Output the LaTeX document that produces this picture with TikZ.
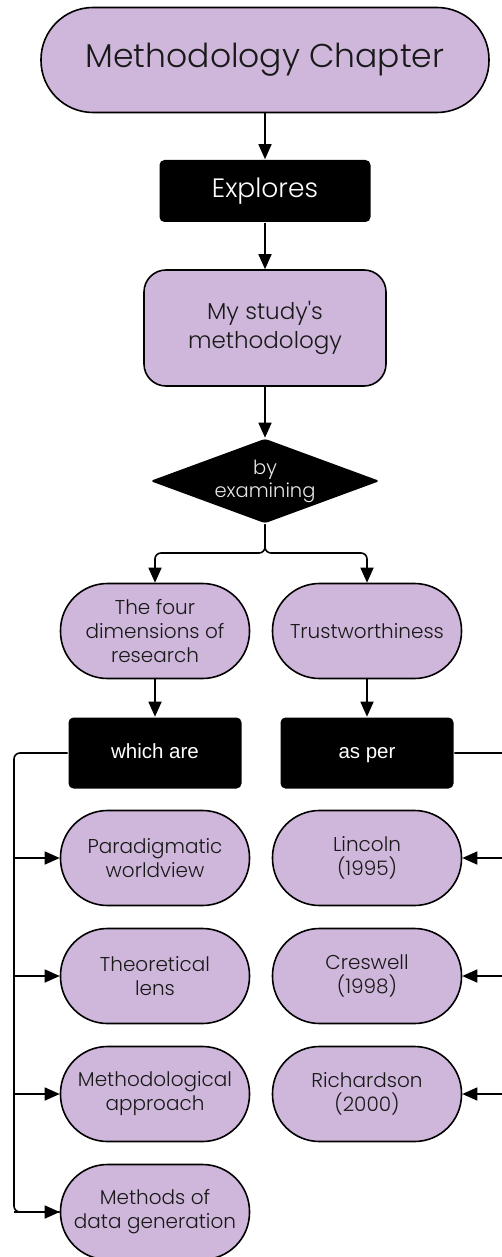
\documentclass[tikz,border=0pt]{standalone}
\usepackage{fontspec}
\newfontfamily\boxfont{Poppins}[UprightFont=* Light]
\newfontfamily\labelfont{Liberation Sans}
\usetikzlibrary{arrows.meta,shapes.geometric}
\definecolor{lav}{RGB}{207,183,219}
\definecolor{paletext}{RGB}{232,232,232}
\begin{document}
\begin{tikzpicture}[x=1pt,y=-1pt,
  line width=1.6pt,
  box/.style={draw=black,fill=lav,line width=1.6pt,inner sep=0pt,align=center,
    text=black!90},
  pill/.style={box,rounded corners=47pt,minimum width=189pt,minimum height=95pt,
    font=\boxfont\fontsize{20}{24}\selectfont},
  darkbox/.style={fill=black,rounded corners=5pt,inner sep=0pt,align=center,text=white},
  tag/.style={darkbox,minimum width=173pt,minimum height=71pt,text height=15pt,
    text depth=4pt,font=\labelfont\fontsize{20.5}{24}\selectfont},
  link/.style={-{Triangle[length=15pt,width=13pt]},line width=1.6pt},
  bus/.style={line width=1.6pt,rounded corners=6pt}
]
\useasboundingbox (0,0) rectangle (502,1257);
\clip (0,0) rectangle (502,1257);

% top of the chain
\node[box,rounded corners=52pt,minimum width=448pt,minimum height=105pt,
  font=\boxfont\fontsize{33}{38}\selectfont] (chap) at (265,60) {Methodology Chapter};
\node[darkbox,minimum width=211pt,minimum height=62pt,
  font=\boxfont\fontsize{26.5}{30}\selectfont] (expl) at (265,191) {Explores};
\node[box,rounded corners=22pt,minimum width=242pt,minimum height=116pt,
  font=\boxfont\fontsize{23}{29}\selectfont] (study) at (265,328) {My study's\\methodology};
\node[diamond,aspect=2.7,fill=black,rounded corners=3pt,minimum width=230pt,
  minimum height=85pt,inner sep=0pt,align=center,text=paletext,
  font=\boxfont\fontsize{19.5}{23}\selectfont]
  (exam) at (265,481) {by\\examining};

% two branches
\node[pill] (four) at (155,631) {The four\\dimensions of\\research};
\node[pill] (trust) at (367,631) {Trustworthiness};
\node[tag] (which) at (155,753) {which are};
\node[tag] (asper) at (367,753) {as per};

% left column
\node[pill] (para) at (155,858) {Paradigmatic\\worldview};
\node[pill] (theo) at (155,976) {Theoretical\\lens};
\node[pill] (appr) at (155,1094) {Methodological\\approach};
\node[pill] (gen) at (155,1212) {Methods of\\data generation};

% right column
\node[pill] (linc) at (367,858) {Lincoln\\(1995)};
\node[pill] (cres) at (367,976) {Creswell\\(1998)};
\node[pill] (rich) at (367,1094) {Richardson\\(2000)};

% connectors
\draw[link] (chap) -- (expl);
\draw[link] (expl) -- (study);
\draw[link] (study) -- (exam);
\coordinate (split) at (265,553);
\draw[link,rounded corners=6pt] (exam.south) -- (split) -| (four.north);
\draw[link,rounded corners=6pt] (exam.south) -- (split) -| (trust.north);
\draw[link] (four) -- (which);
\draw[link] (trust) -- (asper);

% left bus
\coordinate (lb1) at (14,753);
\coordinate (lb2) at (14,1212);
\draw[bus] (which.west) -- (lb1) -- (lb2) -- (gen.west);
\draw[link] (gen.west -| lb2) -- (gen.west);
\draw[link] (para.west -| lb1) -- (para.west);
\draw[link] (theo.west -| lb1) -- (theo.west);
\draw[link] (appr.west -| lb1) -- (appr.west);

% right bus
\coordinate (rb1) at (515,753);
\coordinate (rb2) at (515,1094);
\draw[bus] (asper.east) -- (rb1) -- (rb2);
\draw[link] (linc.east -| rb1) -- (linc.east);
\draw[link] (cres.east -| rb1) -- (cres.east);
\draw[link] (rich.east -| rb1) -- (rich.east);
\end{tikzpicture}
\end{document}
